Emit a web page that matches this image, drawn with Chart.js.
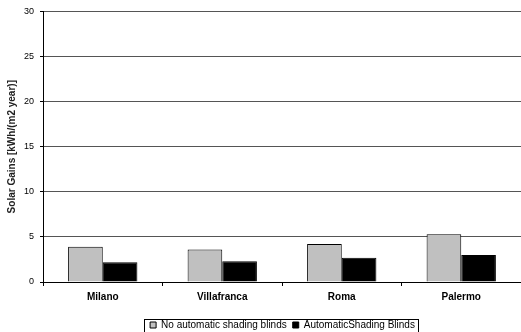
<!DOCTYPE html>
<html>
<head>
<meta charset="utf-8">
<script src="https://cdn.jsdelivr.net/npm/chart.js@4.4.0/dist/chart.umd.min.js"></script>
<style>
  body { margin: 0; background: #fff; }
  #grafico { display: block; }
</style>
</head>
<body>
<canvas id="grafico" width="521" height="332"></canvas>
<script>
// datos del grafico
const ciudades = ["Milano", "Villafranca", "Roma", "Palermo"];
const sinPersianas = [3.9, 3.6, 4.2, 5.3];
const conPersianas = [2.2, 2.3, 2.7, 3.0];
const nombresSeries = ["No automatic shading blinds", "AutomaticShading Blinds"];
const tituloEjeY = "Solar Gains [kWh/(m2 year)]";

Chart.defaults.font.family = "'Liberation Sans', Arial, sans-serif";
Chart.defaults.font.size = 10;
Chart.defaults.color = "#000";

// mueve la leyenda un poco a la derecha y le pone borde
const bordeLeyenda = {
  id: "bordeLeyenda",
  afterUpdate(chart) {
    const lg = chart.legend;
    const dx = 22;
    lg.left += dx; lg.right += dx;
    (lg.legendHitBoxes || []).forEach(h => { h.left += dx; });
  },
  afterDraw(chart) {
    const hb = chart.legend.legendHitBoxes;
    if (!hb || !hb.length) return;
    let l = Infinity, r = -Infinity, t = Infinity;
    hb.forEach(h => {
      l = Math.min(l, h.left); r = Math.max(r, h.left + h.width);
      t = Math.min(t, h.top);
    });
    const ctx = chart.ctx;
    ctx.save();
    ctx.strokeStyle = "#000";
    ctx.lineWidth = 1;
    ctx.strokeRect(Math.round(l) - 5.5, Math.round(t) - 0.5, Math.round(r - l) + 9, 30);
    ctx.restore();
  }
};

let miCanvas = document.getElementById("grafico").getContext("2d");

var chart = new Chart(miCanvas, {
  type: "bar",
  data: {
    labels: ciudades,
    datasets: [
      {
        label: nombresSeries[0],
        backgroundColor: "#c0c0c0",
        borderColor: "#000",
        borderWidth: 1,
        borderSkipped: "bottom",
        data: sinPersianas
      },
      {
        label: nombresSeries[1],
        backgroundColor: "#000",
        borderColor: "#000",
        borderWidth: 1,
        borderSkipped: "bottom",
        data: conPersianas
      }
    ]
  },
  options: {
    responsive: false,
    animation: false,
    layout: { padding: { top: 8, right: 0, left: 0, bottom: -8 } },
    datasets: { bar: { barPercentage: 1, categoryPercentage: 0.58 } },
    plugins: {
      tooltip: { enabled: false },
      legend: {
        position: "bottom",
        labels: { boxWidth: 6, boxHeight: 6, padding: 6, font: { size: 10 }, color: "#000" }
      }
    },
    scales: {
      x: {
        grid: { drawOnChartArea: false, drawTicks: true, tickLength: 4, color: "#000" },
        border: { color: "#000" },
        ticks: { font: { weight: "bold", size: 10 }, padding: 5 },
        afterFit(scale) { scale.height = 32; }
      },
      y: {
        min: 0,
        max: 30,
        ticks: { stepSize: 5, padding: 6, font: { size: 9 } },
        grid: { color: "#555", tickLength: 3, tickColor: "#000" },
        border: { color: "#000" },
        title: {
          display: true, text: tituloEjeY, color: "#222",
          font: { size: 10, weight: "bold" }, padding: { top: 6, bottom: 0 }
        }
      }
    }
  },
  plugins: [bordeLeyenda]
});
</script>
</body>
</html>
